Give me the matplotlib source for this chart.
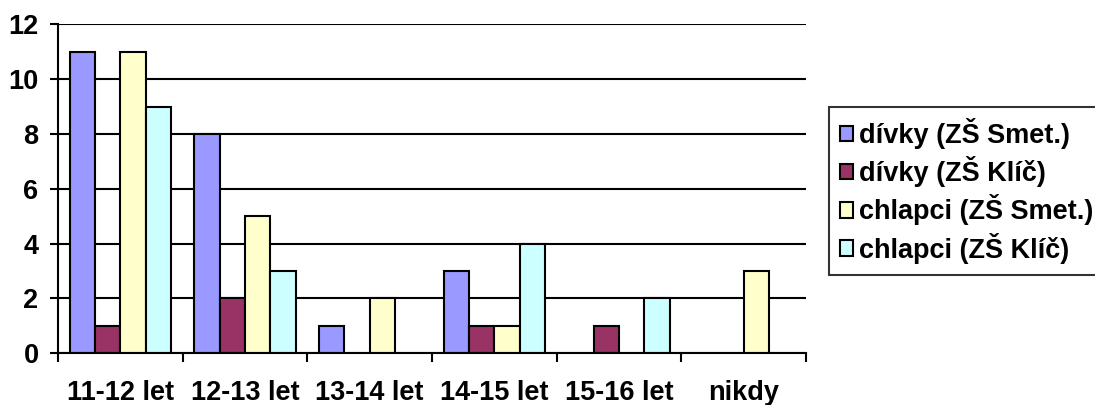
import matplotlib.pyplot as plt
import numpy as np

plt.rcParams['font.family'] = ['Liberation Sans', 'DejaVu Sans']
plt.rcParams['font.weight'] = 'bold'

categories = ['11-12 let', '12-13 let', '13-14 let', '14-15 let', '15-16 let', 'nikdy']
divky_smet = [11, 8, 1, 3, 0, 0]
divky_klic = [1, 2, 0, 1, 1, 0]
chlapci_smet = [11, 5, 2, 1, 0, 3]
chlapci_klic = [9, 3, 0, 4, 2, 0]

series = {
    'dívky (ZŠ Smet.)': divky_smet,
    'dívky (ZŠ Klíč)': divky_klic,
    'chlapci (ZŠ Smet.)': chlapci_smet,
    'chlapci (ZŠ Klíč)': chlapci_klic,
}
colors = ['#9999FF', '#993366', '#FFFFCC', '#CCFFFF']
lw = 1.5
fs = 19.5

fig = plt.figure(figsize=(10.95, 4.05), dpi=100)
ax = fig.add_axes([0.053, 0.128, 0.683, 0.812])

x = np.arange(len(categories))
width = 0.203
handles = []
for i, (name, vals) in enumerate(series.items()):
    vals = np.array(vals)
    keep = vals > 0  # Excel leaves empty slots for zero counts
    offset = (i - 1.5) * width
    ax.bar(x[keep] + offset, vals[keep], width, color=colors[i],
           edgecolor='black', linewidth=lw, zorder=3)
    handles.append(plt.Rectangle((0, 0), 1, 1, facecolor=colors[i],
                                 edgecolor='black', linewidth=lw, label=name))

ax.set_xlim(-0.5, len(categories) - 0.5)
ax.set_ylim(0, 12)
ax.set_yticks(range(0, 13, 2))
ax.yaxis.grid(True, color='black', linewidth=lw, zorder=0)
ax.set_axisbelow(True)

# boundary ticks between groups, labels centred under each group
ax.set_xticks(np.arange(-0.5, len(categories), 1.0))
ax.set_xticklabels([])
ax.set_xticks(x, minor=True)
ax.set_xticklabels(categories, minor=True)
ax.tick_params(axis='x', which='major', direction='out', length=6.5, width=lw)
ax.tick_params(axis='x', which='minor', length=0, pad=19, labelsize=fs)
ax.tick_params(axis='y', direction='out', length=6, width=lw, pad=8, labelsize=fs)

for side in ['top', 'right']:
    ax.spines[side].set_visible(False)
for side in ['left', 'bottom']:
    ax.spines[side].set_linewidth(lw)
    ax.spines[side].set_zorder(4)

leg = fig.legend(handles=handles, loc='upper left',
                 bbox_to_anchor=(829 / 1095, 1 - 107 / 405),
                 frameon=True, fancybox=False, edgecolor='black',
                 fontsize=fs, handlelength=0.5, handleheight=0.5,
                 handletextpad=0.2, labelspacing=0.27, borderpad=0.4,
                 borderaxespad=0)
leg.get_frame().set_linewidth(lw)

fig.savefig('out.png', dpi=100)
